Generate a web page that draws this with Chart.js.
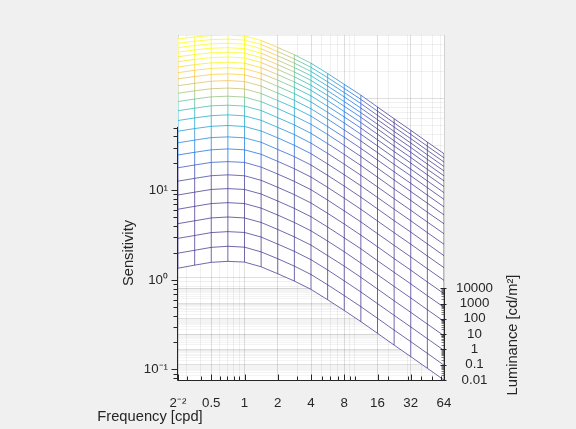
<!DOCTYPE html>
<html>
<head>
<meta charset="utf-8">
<script src="https://cdn.jsdelivr.net/npm/chart.js@4.4.1/dist/chart.umd.min.js"></script>
<style>
  html, body { margin: 0; padding: 0; background: #f0f0f0; }
  canvas { display: block; }
</style>
</head>
<body>
<canvas id="c" width="576" height="429"></canvas>
<script>
// ---------------- data ----------------
const frequencies = [0.25, 0.354, 0.5, 0.707, 1, 1.414, 2, 2.828, 4, 5.657, 8, 11.31, 16, 22.63, 32, 45.25, 64];
const luminances = [0.01, 0.0178, 0.0316, 0.0562, 0.1, 0.178, 0.316, 0.562, 1, 1.78, 3.16, 5.62,
                    10, 17.8, 31.6, 56.2, 100, 178, 316, 562, 1000, 1778, 3162, 5623, 10000];
// sensitivity[i][j] : luminance i, frequency j
const sensitivity = [
  [1.35, 1.46, 1.57, 1.61, 1.58, 1.40, 1.17, 0.970, 0.783, 0.600, 0.455, 0.342, 0.253, 0.187, 0.139, 0.103, 0.0762],
  [1.80, 1.94, 2.09, 2.15, 2.10, 1.86, 1.56, 1.29, 1.04, 0.798, 0.605, 0.455, 0.337, 0.249, 0.185, 0.137, 0.101],
  [2.39, 2.57, 2.77, 2.84, 2.78, 2.47, 2.06, 1.71, 1.38, 1.06, 0.801, 0.602, 0.446, 0.330, 0.245, 0.181, 0.134],
  [3.16, 3.40, 3.66, 3.75, 3.66, 3.26, 2.72, 2.25, 1.82, 1.39, 1.06, 0.795, 0.588, 0.435, 0.323, 0.239, 0.177],
  [4.15, 4.47, 4.80, 4.91, 4.80, 4.27, 3.57, 2.95, 2.38, 1.83, 1.39, 1.04, 0.771, 0.570, 0.424, 0.313, 0.232],
  [5.42, 5.83, 6.25, 6.39, 6.25, 5.56, 4.64, 3.84, 3.10, 2.38, 1.80, 1.36, 1.00, 0.742, 0.552, 0.407, 0.302],
  [7.02, 7.54, 8.07, 8.25, 8.06, 7.17, 5.99, 4.96, 4.00, 3.07, 2.33, 1.75, 1.30, 0.957, 0.712, 0.525, 0.389],
  [8.97, 9.63, 10.3, 10.5, 10.3, 9.13, 7.63, 6.32, 5.10, 3.91, 2.96, 2.23, 1.65, 1.22, 0.907, 0.669, 0.496],
  [11.3, 12.1, 12.9, 13.2, 12.9, 11.5, 9.58, 7.93, 6.40, 4.91, 3.72, 2.80, 2.07, 1.53, 1.14, 0.841, 0.623],
  [14.0, 15.0, 16.0, 16.3, 15.9, 14.2, 11.8, 9.80, 7.91, 6.06, 4.60, 3.46, 2.56, 1.89, 1.41, 1.04, 0.769],
  [17.1, 18.3, 19.4, 19.8, 19.3, 17.2, 14.4, 11.9, 9.60, 7.36, 5.58, 4.20, 3.11, 2.30, 1.71, 1.26, 0.934],
  [20.4, 21.8, 23.1, 23.6, 23.0, 20.5, 17.1, 14.2, 11.4, 8.76, 6.64, 4.99, 3.70, 2.73, 2.03, 1.50, 1.11],
  [23.8, 25.4, 27.0, 27.4, 26.8, 23.9, 19.9, 16.5, 13.3, 10.2, 7.74, 5.82, 4.31, 3.18, 2.37, 1.75, 1.30],
  [27.3, 29.1, 30.8, 31.3, 30.6, 27.2, 22.8, 18.8, 15.2, 11.7, 8.84, 6.64, 4.92, 3.63, 2.70, 2.00, 1.48],
  [30.6, 32.6, 34.4, 35.0, 34.2, 30.4, 25.4, 21.1, 17.0, 13.0, 9.88, 7.42, 5.50, 4.06, 3.02, 2.23, 1.65],
  [33.7, 35.8, 37.8, 38.4, 37.5, 33.4, 27.9, 23.1, 18.6, 14.3, 10.8, 8.14, 6.03, 4.46, 3.32, 2.45, 1.81],
  [36.4, 38.7, 40.7, 41.4, 40.4, 36.0, 30.0, 24.9, 20.1, 15.4, 11.7, 8.77, 6.50, 4.80, 3.57, 2.64, 1.95],
  [38.7, 41.1, 43.2, 43.9, 42.9, 38.1, 31.9, 26.4, 21.3, 16.3, 12.4, 9.31, 6.89, 5.09, 3.79, 2.80, 2.07],
  [40.6, 43.1, 45.2, 45.9, 44.8, 39.9, 33.3, 27.6, 22.3, 17.1, 12.9, 9.73, 7.21, 5.32, 3.96, 2.92, 2.17],
  [42.2, 44.7, 46.9, 47.5, 46.4, 41.3, 34.5, 28.6, 23.0, 17.7, 13.4, 10.1, 7.46, 5.51, 4.10, 3.03, 2.24],
  [43.4, 45.9, 48.1, 48.7, 47.6, 42.4, 35.4, 29.3, 23.6, 18.1, 13.7, 10.3, 7.65, 5.65, 4.21, 3.10, 2.30],
  [44.3, 46.9, 49.0, 49.6, 48.5, 43.1, 36.0, 29.8, 24.1, 18.5, 14.0, 10.5, 7.79, 5.76, 4.28, 3.16, 2.34],
  [45.1, 47.6, 49.7, 50.3, 49.2, 43.7, 36.5, 30.2, 24.4, 18.7, 14.2, 10.7, 7.90, 5.84, 4.34, 3.21, 2.38],
  [45.7, 48.2, 50.2, 50.8, 49.6, 44.2, 36.9, 30.5, 24.6, 18.9, 14.3, 10.8, 7.98, 5.89, 4.39, 3.24, 2.40],
  [46.2, 48.7, 50.6, 51.2, 50.0, 44.5, 37.2, 30.8, 24.8, 19.0, 14.4, 10.9, 8.04, 5.94, 4.42, 3.26, 2.42]
];
const freqTicks = [0.25, 0.5, 1, 2, 4, 8, 16, 32, 64];
const freqTickLabels = ['2\u207B\u00B2', '0.5', '1', '2', '4', '8', '16', '32', '64'];
const sensTicks = [0.1, 1, 10];
const sensTickLabels = ['10\u207B\u00B9', '10\u2070', '10\u00B9'];
const lumTicks = [0.01, 0.1, 1, 10, 100, 1000, 10000];
const lumTickLabels = ['0.01', '0.1', '1', '10', '100', '1000', '10000'];

// ---------------- view / style ----------------
// 3-D view: going from the front (lowest luminance) to the back (highest luminance)
// raises a point on screen by this many decades of the sensitivity axis.
const VIEW_DEPTH_DECADES = 1.025;
const DEPTH_FACTOR = Math.pow(10, VIEW_DEPTH_DECADES);
const FONT = '"Liberation Sans", Arial, Helvetica, sans-serif';
const TEXT = '#262626';
const TICK_FONT = { family: FONT, size: 13.3 };
const GRID_MAJOR = 'rgba(38,38,38,0.15)';
const GRID_MINOR = 'rgba(38,38,38,0.07)';
// colour limits of the mesh colormap (sensitivity units)
const COLOR_LIMITS = [7, 46];
const MESH_ALPHA = 0.7;

const allS = sensitivity.flat();
const zMin = Math.min(...allS), zMax = Math.max(...allS);
const lumLogMin = Math.log10(luminances[0]);
const lumLogMax = Math.log10(luminances[luminances.length - 1]);
function project(S, L) {
  return S * Math.pow(10, VIEW_DEPTH_DECADES * (Math.log10(L) - lumLogMin) / (lumLogMax - lumLogMin));
}
const yMin = zMin, yMax = zMax * DEPTH_FACTOR;
const lumAxisMax = Math.pow(10, lumLogMin + (lumLogMax - lumLogMin) * Math.log10(yMax / yMin) / VIEW_DEPTH_DECADES);

const PARULA = [
  [0.2081,0.1663,0.5292],[0.1959,0.2645,0.7279],[0.0117,0.3875,0.8820],[0.0498,0.4586,0.8641],
  [0.0793,0.5200,0.8312],[0.0343,0.5966,0.8199],[0.0228,0.6535,0.7768],[0.0843,0.6928,0.7062],
  [0.2178,0.7250,0.6193],[0.3953,0.7459,0.5244],[0.5709,0.7485,0.4494],[0.7184,0.7411,0.3905],
  [0.8507,0.7299,0.3360],[0.9739,0.7314,0.2666],[0.9880,0.8066,0.1794],[0.9589,0.8949,0.1132],
  [0.9763,0.9831,0.0538]
];
function meshColor(S) {
  let t = (S - COLOR_LIMITS[0]) / (COLOR_LIMITS[1] - COLOR_LIMITS[0]);
  t = Math.max(0, Math.min(1, t));
  const n = PARULA.length - 1, p = t * n;
  const k = Math.min(Math.floor(p), n - 1), f = p - k;
  const a = PARULA[k], b = PARULA[k + 1];
  const c = a.map((v, q) => Math.round(255 * (v + (b[q] - v) * f)));
  return `rgba(${c[0]},${c[1]},${c[2]},${MESH_ALPHA})`;
}

function logMinorTicks(lo, hi) {
  const out = [];
  for (let e = -4; e <= 6; e++) for (let m = 1; m <= 9; m++) {
    const v = Number((m * Math.pow(10, e)).toPrecision(8));
    if (v >= lo * (1 - 1e-9) && v <= hi * (1 + 1e-9)) out.push(v);
  }
  return out;
}
function mergeTicks(major, minor) {
  const all = major.map(v => ({ value: v, major: true }));
  minor.forEach(v => { if (!major.some(m => Math.abs(m - v) / v < 1e-6)) all.push({ value: v, major: false }); });
  return all.sort((a, b) => a.value - b.value);
}
function labelFor(v, list, labels) {
  const i = list.findIndex(m => Math.abs(m - v) / m < 1e-6);
  return i >= 0 ? labels[i] : '';
}
const xTickList = mergeTicks(freqTicks, logMinorTicks(freqTicks[0], freqTicks[freqTicks.length - 1]));
const sTickList = mergeTicks(sensTicks, logMinorTicks(zMin, zMax));
const lTickList = mergeTicks(lumTicks, logMinorTicks(lumTicks[0], lumTicks[lumTicks.length - 1]));
const gridColor = ctx => (ctx.tick && ctx.tick.major) ? GRID_MAJOR : GRID_MINOR;

// ---------------- datasets ----------------
const datasets = [];
function meshLine(points, sv, extra) {
  return Object.assign({
    data: points,
    borderWidth: 1,
    borderColor: meshColor(sv[0]),
    pointRadius: 0,
    pointHoverRadius: 0,
    tension: 0,
    fill: false,
    segment: { borderColor: c => meshColor((sv[c.p0DataIndex] + sv[c.p1DataIndex]) / 2) }
  }, extra || {});
}
luminances.forEach((L, i) => {
  const sv = sensitivity[i];
  const pts = frequencies.map((f, j) => ({ x: f, y: project(sv[j], L) }));
  const extra = (i === luminances.length - 1) ? { fill: 0, backgroundColor: '#ffffff' } : {};
  datasets.push(meshLine(pts, sv, extra));
});
frequencies.forEach((f, j) => {
  const sv = sensitivity.map(r => r[j]);
  const pts = luminances.map((L, i) => ({ x: f, y: project(sv[i], L) }));
  datasets.push(meshLine(pts, sv));
});

// ---------------- decorations: axis lines, ticks, titles ----------------
const decor = {
  id: 'decor',
  beforeDraw(chart) {
    const { ctx, chartArea: a } = chart;
    ctx.save();
    ctx.fillStyle = '#ffffff';
    ctx.fillRect(a.left, a.top, a.right - a.left, a.bottom - a.top);
    ctx.restore();
  },
  afterDraw(chart) {
    const { ctx, chartArea: a } = chart;
    const { x, y, yL } = chart.scales;
    ctx.save();
    ctx.strokeStyle = TEXT;
    ctx.lineWidth = 1;
    ctx.beginPath();
    const by = Math.round(a.bottom) + 0.5;
    ctx.moveTo(a.left - 0.5, by); ctx.lineTo(a.right + 1, by);
    x.ticks.forEach(t => {
      const px = Math.round(x.getPixelForValue(t.value)) + 0.5;
      const len = t.major ? 6 : 4;
      ctx.moveTo(px, by); ctx.lineTo(px, by - len);
    });
    const lx = Math.round(a.left) - 0.5;
    ctx.moveTo(lx, y.getPixelForValue(zMin) + 0.5); ctx.lineTo(lx, y.getPixelForValue(zMax));
    y.ticks.forEach(t => {
      const py = Math.round(y.getPixelForValue(t.value)) + 0.5;
      const len = t.major ? 6 : 4;
      ctx.moveTo(lx, py); ctx.lineTo(lx - len, py);
    });
    const rx = Math.round(a.right) + 0.5;
    ctx.moveTo(rx, yL.getPixelForValue(lumTicks[0]) + 0.5);
    ctx.lineTo(rx, yL.getPixelForValue(lumTicks[lumTicks.length - 1]));
    ctx.stroke();
    ctx.beginPath();
    yL.ticks.forEach(t => {
      if (!t.major) return;
      const py = Math.round(yL.getPixelForValue(t.value)) + 0.5;
      ctx.moveTo(rx - 4, py); ctx.lineTo(rx + 2, py);
    });
    ctx.stroke();
    ctx.beginPath();
    ctx.strokeStyle = 'rgba(38,38,38,0.6)';
    yL.ticks.forEach(t => {
      if (t.major) return;
      const py = Math.round(yL.getPixelForValue(t.value)) + 0.5;
      ctx.moveTo(rx - 3, py); ctx.lineTo(rx, py);
    });
    ctx.stroke();

    ctx.fillStyle = TEXT;
    ctx.font = `14.7px ${FONT}`;
    ctx.textAlign = 'center';
    ctx.textBaseline = 'middle';
    ctx.fillText('Frequency [cpd]', 150, 417);
    ctx.save();
    ctx.translate(129, 253); ctx.rotate(-Math.PI / 2);
    ctx.fillText('Sensitivity', 0, 0);
    ctx.restore();
    ctx.save();
    ctx.translate(513, 335); ctx.rotate(-Math.PI / 2);
    ctx.fillText('Luminance [cd/m\u00B2]', 0, 0);
    ctx.restore();
    ctx.restore();
  }
};

new Chart(document.getElementById('c'), {
  type: 'line',
  data: { datasets },
  options: {
    responsive: false,
    devicePixelRatio: 1,
    animation: false,
    events: [],
    layout: { padding: { top: 35, left: 0, right: 0, bottom: 0 } },
    plugins: {
      legend: { display: false },
      tooltip: { enabled: false },
      filler: { drawTime: 'beforeDatasetsDraw' }
    },
    scales: {
      x: {
        type: 'logarithmic', position: 'bottom', bounds: 'data',
        min: freqTicks[0], max: freqTicks[freqTicks.length - 1],
        afterBuildTicks: s => { s.ticks = xTickList.map(t => ({ ...t })); },
        afterFit: s => { s.height = 49; },
        ticks: { autoSkip: false, maxRotation: 0, minRotation: 0, padding: 15, color: TEXT, font: TICK_FONT,
                 callback: v => labelFor(v, freqTicks, freqTickLabels) },
        grid: { drawTicks: false, color: gridColor },
        border: { display: false }
      },
      y: {
        type: 'logarithmic', position: 'left', bounds: 'data',
        min: yMin, max: yMax,
        afterBuildTicks: s => { s.ticks = sTickList.map(t => ({ ...t })); },
        afterFit: s => { s.width = 178; },
        ticks: { autoSkip: false, padding: 10, color: TEXT, font: TICK_FONT,
                 callback: v => labelFor(v, sensTicks, sensTickLabels) },
        grid: { drawOnChartArea: false, drawTicks: false },
        border: { display: false }
      },
      yBack: {
        type: 'logarithmic', position: 'left', bounds: 'data',
        min: zMin / DEPTH_FACTOR, max: zMax,
        afterBuildTicks: s => { s.ticks = sTickList.map(t => ({ ...t })); },
        afterFit: s => { s.width = 0; },
        ticks: { display: false, autoSkip: false },
        grid: { drawTicks: false, color: gridColor },
        border: { display: false }
      },
      yL: {
        type: 'logarithmic', position: 'right', bounds: 'data',
        min: lumTicks[0], max: lumAxisMax,
        afterBuildTicks: s => { s.ticks = lTickList.map(t => ({ ...t })); },
        afterFit: s => { s.width = 132; },
        ticks: { autoSkip: false, padding: 12, crossAlign: 'center', color: TEXT, font: TICK_FONT,
                 callback: v => labelFor(v, lumTicks, lumTickLabels) },
        grid: { drawTicks: false, color: ctx => (ctx.tick && ctx.tick.major) ? GRID_MAJOR : 'rgba(38,38,38,0.05)' },
        border: { display: false }
      }
    }
  },
  plugins: [decor]
});
</script>
</body>
</html>
